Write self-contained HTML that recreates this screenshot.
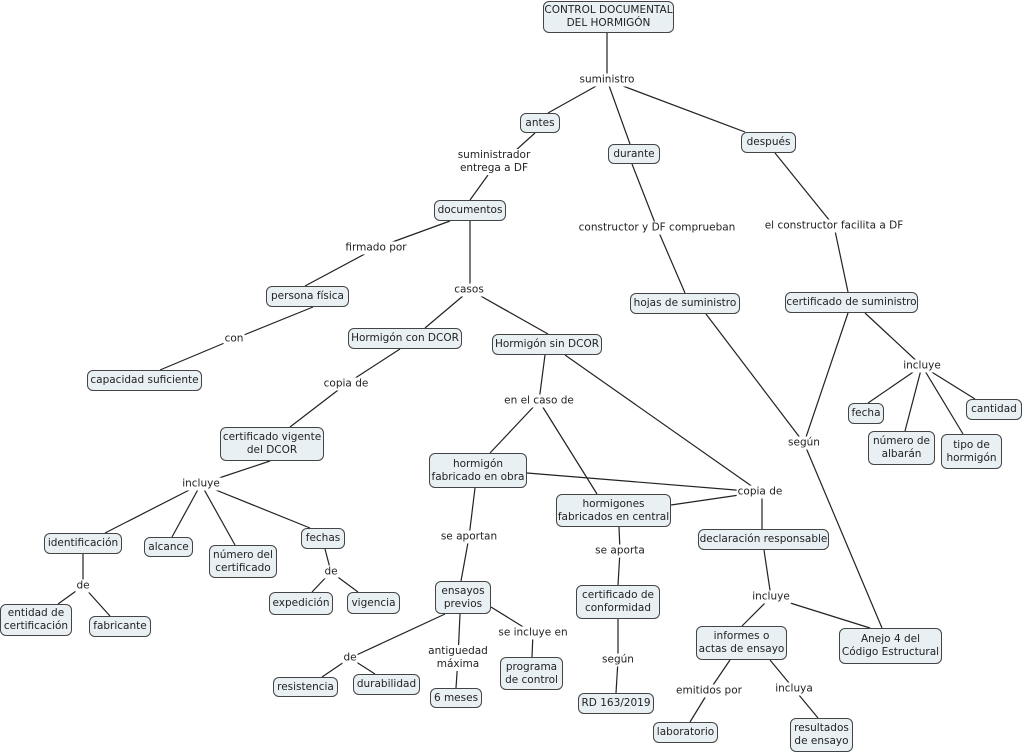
<!DOCTYPE html>
<html><head><meta charset="utf-8"><style>
body{margin:0;width:1024px;height:754px;background:#fff;position:relative;overflow:hidden;font-family:"DejaVu Sans","Liberation Sans",sans-serif;font-size:10.5px;color:#222}
.n{position:absolute;box-sizing:border-box;background:#e9f0f4;border:1.3px solid #444;border-radius:6px;display:flex;align-items:center;justify-content:center;text-align:center;line-height:13px;white-space:nowrap}
.l{position:absolute;transform:translate(-50%,-50%);background:#fff;text-align:center;line-height:13px;white-space:nowrap;padding:0 1px}
svg{position:absolute;left:0;top:0}
</style></head><body>
<svg width="1024" height="754"><g stroke="#222" stroke-width="1.2" fill="none">
<line x1="607" y1="33" x2="607" y2="80"/><line x1="607" y1="80" x2="548" y2="113"/><line x1="607" y1="80" x2="630" y2="144"/><line x1="607" y1="80" x2="745" y2="132"/>
<line x1="535" y1="133" x2="505" y2="160"/><line x1="488" y1="175" x2="470" y2="200"/>
<line x1="450" y1="221" x2="376" y2="248"/><line x1="376" y1="248" x2="305" y2="286"/>
<line x1="470" y1="221" x2="470" y2="290"/><line x1="470" y1="290" x2="425" y2="328"/><line x1="470" y1="290" x2="548" y2="334"/>
<line x1="313" y1="307" x2="234" y2="339"/><line x1="234" y1="339" x2="160" y2="370"/>
<line x1="400" y1="349" x2="346" y2="384"/><line x1="346" y1="384" x2="290" y2="427"/>
<line x1="545" y1="355" x2="539" y2="401"/><line x1="539" y1="401" x2="490" y2="453"/><line x1="539" y1="401" x2="597" y2="494"/>
<line x1="565" y1="355" x2="760" y2="492"/><line x1="527" y1="473" x2="760" y2="492"/><line x1="671" y1="505" x2="760" y2="492"/><line x1="762" y1="492" x2="762" y2="529"/>
<line x1="632" y1="164" x2="657" y2="228"/><line x1="657" y1="228" x2="685" y2="293"/>
<line x1="706" y1="314" x2="804" y2="443"/><line x1="848" y1="313" x2="804" y2="443"/><line x1="804" y1="443" x2="882" y2="628"/>
<line x1="775" y1="153" x2="834" y2="226"/><line x1="834" y1="226" x2="848" y2="292"/>
<line x1="865" y1="313" x2="922" y2="366"/><line x1="922" y1="366" x2="868" y2="403"/><line x1="922" y1="366" x2="905" y2="431"/><line x1="922" y1="366" x2="963" y2="434"/><line x1="922" y1="366" x2="975" y2="399"/>
<line x1="270" y1="461" x2="201" y2="484"/><line x1="201" y1="484" x2="105" y2="533"/><line x1="201" y1="484" x2="172" y2="537"/><line x1="201" y1="484" x2="235" y2="545"/><line x1="201" y1="484" x2="310" y2="528"/>
<line x1="83" y1="554" x2="83" y2="586"/><line x1="83" y1="586" x2="58" y2="604"/><line x1="83" y1="586" x2="110" y2="616"/>
<line x1="325" y1="549" x2="331" y2="572"/><line x1="331" y1="572" x2="312" y2="592"/><line x1="331" y1="572" x2="358" y2="592"/>
<line x1="475" y1="488" x2="469" y2="537"/><line x1="469" y1="537" x2="461" y2="581"/>
<line x1="445" y1="614" x2="350" y2="658"/><line x1="350" y1="658" x2="322" y2="677"/><line x1="350" y1="658" x2="375" y2="674"/>
<line x1="460" y1="614" x2="458" y2="658"/><line x1="458" y1="658" x2="456" y2="688"/>
<line x1="491" y1="607" x2="533" y2="633"/><line x1="533" y1="633" x2="532" y2="657"/>
<line x1="619" y1="527" x2="620" y2="551"/><line x1="620" y1="551" x2="618" y2="585"/>
<line x1="618" y1="619" x2="618" y2="660"/><line x1="618" y1="660" x2="616" y2="693"/>
<line x1="764" y1="550" x2="771" y2="597"/><line x1="771" y1="597" x2="742" y2="626"/><line x1="771" y1="597" x2="870" y2="628"/>
<line x1="730" y1="660" x2="709" y2="691"/><line x1="709" y1="691" x2="690" y2="722"/><line x1="770" y1="660" x2="794" y2="689"/><line x1="794" y1="689" x2="818" y2="718"/>
</g></svg>
<div class="l" style="left:607px;top:80px">suministro</div>
<div class="l" style="left:494px;top:162px">suministrador<br>entrega a DF</div>
<div class="l" style="left:376px;top:248px">firmado por</div>
<div class="l" style="left:469px;top:290px">casos</div>
<div class="l" style="left:234px;top:339px">con</div>
<div class="l" style="left:346px;top:384px">copia de</div>
<div class="l" style="left:539px;top:401px">en el caso de</div>
<div class="l" style="left:657px;top:228px">constructor y DF comprueban</div>
<div class="l" style="left:834px;top:226px">el constructor facilita a DF</div>
<div class="l" style="left:922px;top:366px">incluye</div>
<div class="l" style="left:804px;top:443px">según</div>
<div class="l" style="left:760px;top:492px">copia de</div>
<div class="l" style="left:201px;top:484px">incluye</div>
<div class="l" style="left:83px;top:586px">de</div>
<div class="l" style="left:331px;top:572px">de</div>
<div class="l" style="left:469px;top:537px">se aportan</div>
<div class="l" style="left:620px;top:551px">se aporta</div>
<div class="l" style="left:771px;top:597px">incluye</div>
<div class="l" style="left:350px;top:658px">de</div>
<div class="l" style="left:458px;top:658px">antiguedad<br>máxima</div>
<div class="l" style="left:533px;top:633px">se incluye en</div>
<div class="l" style="left:618px;top:660px">según</div>
<div class="l" style="left:709px;top:691px">emitidos por</div>
<div class="l" style="left:794px;top:689px">incluya</div>

<div class="n" style="left:543px;top:1px;width:131px;height:32px">CONTROL DOCUMENTAL<br>DEL HORMIGÓN</div>
<div class="n" style="left:520px;top:113px;width:40px;height:20px">antes</div>
<div class="n" style="left:608px;top:144px;width:52px;height:20px">durante</div>
<div class="n" style="left:741px;top:132px;width:55px;height:21px">después</div>
<div class="n" style="left:434px;top:200px;width:72px;height:21px">documentos</div>
<div class="n" style="left:266px;top:286px;width:83px;height:21px">persona física</div>
<div class="n" style="left:87px;top:370px;width:115px;height:21px">capacidad suficiente</div>
<div class="n" style="left:348px;top:328px;width:114px;height:21px">Hormigón con DCOR</div>
<div class="n" style="left:492px;top:334px;width:110px;height:21px">Hormigón sin DCOR</div>
<div class="n" style="left:220px;top:427px;width:104px;height:34px">certificado vigente<br>del DCOR</div>
<div class="n" style="left:630px;top:293px;width:110px;height:21px">hojas de suministro</div>
<div class="n" style="left:785px;top:292px;width:133px;height:21px">certificado de suministro</div>
<div class="n" style="left:848px;top:403px;width:36px;height:21px">fecha</div>
<div class="n" style="left:868px;top:431px;width:67px;height:34px">número de<br>albarán</div>
<div class="n" style="left:941px;top:434px;width:61px;height:35px">tipo de<br>hormigón</div>
<div class="n" style="left:966px;top:399px;width:56px;height:21px">cantidad</div>
<div class="n" style="left:429px;top:453px;width:98px;height:35px">hormigón<br>fabricado en obra</div>
<div class="n" style="left:556px;top:494px;width:115px;height:33px">hormigones<br>fabricados en central</div>
<div class="n" style="left:698px;top:529px;width:131px;height:21px">declaración responsable</div>
<div class="n" style="left:44px;top:533px;width:78px;height:21px">identificación</div>
<div class="n" style="left:144px;top:537px;width:49px;height:20px">alcance</div>
<div class="n" style="left:209px;top:545px;width:68px;height:33px">número del<br>certificado</div>
<div class="n" style="left:301px;top:528px;width:44px;height:21px">fechas</div>
<div class="n" style="left:269px;top:592px;width:64px;height:23px">expedición</div>
<div class="n" style="left:347px;top:592px;width:53px;height:22px">vigencia</div>
<div class="n" style="left:0px;top:604px;width:72px;height:32px">entidad de<br>certificación</div>
<div class="n" style="left:89px;top:616px;width:62px;height:21px">fabricante</div>
<div class="n" style="left:435px;top:581px;width:56px;height:33px">ensayos<br>previos</div>
<div class="n" style="left:576px;top:585px;width:84px;height:34px">certificado de<br>conformidad</div>
<div class="n" style="left:696px;top:626px;width:91px;height:34px">informes o<br>actas de ensayo</div>
<div class="n" style="left:839px;top:628px;width:103px;height:36px">Anejo 4 del<br>Código Estructural</div>
<div class="n" style="left:273px;top:677px;width:65px;height:20px">resistencia</div>
<div class="n" style="left:353px;top:674px;width:67px;height:21px">durabilidad</div>
<div class="n" style="left:430px;top:688px;width:52px;height:20px">6 meses</div>
<div class="n" style="left:500px;top:657px;width:63px;height:33px">programa<br>de control</div>
<div class="n" style="left:578px;top:693px;width:76px;height:21px">RD 163/2019</div>
<div class="n" style="left:653px;top:722px;width:65px;height:21px">laboratorio</div>
<div class="n" style="left:790px;top:718px;width:63px;height:34px">resultados<br>de ensayo</div>
</body></html>
